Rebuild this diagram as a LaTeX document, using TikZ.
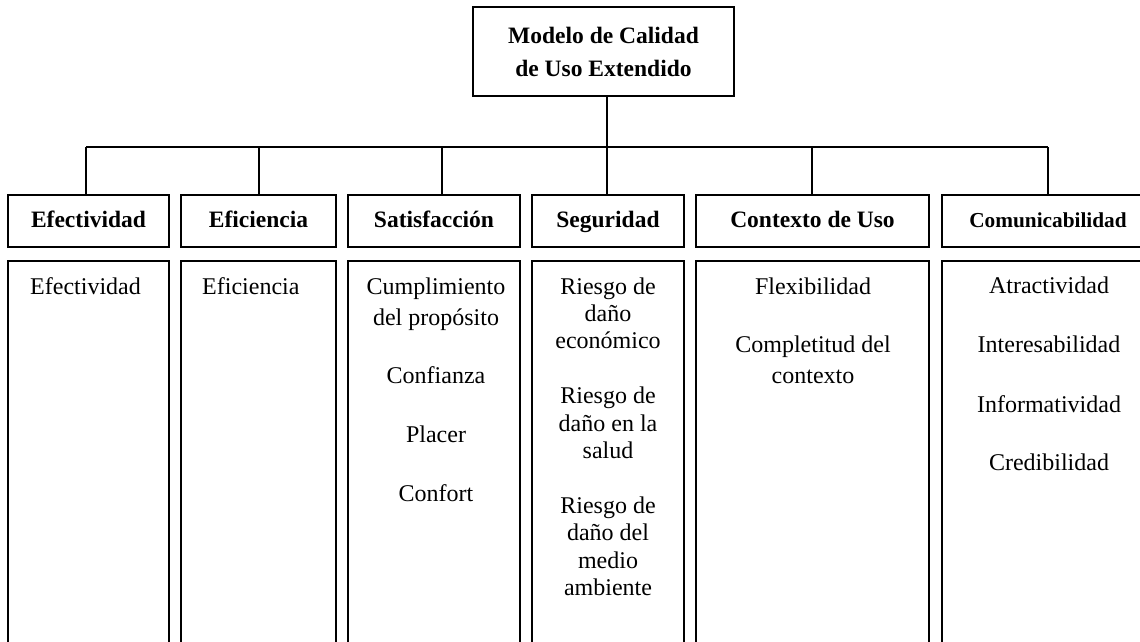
\documentclass[tikz,border=0pt]{standalone}
\usepackage{fontspec}
\setmainfont{Liberation Serif}
\begin{document}
\begin{tikzpicture}[x=1pt,y=-1pt,
  ln/.style={line width=1.5pt},
  hdrbox/.style={draw, line width=1.5pt, rectangle, inner sep=0pt, minimum height=52pt,
    font=\bfseries\fontsize{23.5}{27}\selectfont, text height=17pt, text depth=4pt},
  titlebox/.style={draw, line width=1.5pt, rectangle, inner sep=0pt, minimum width=261pt, minimum height=89pt,
    align=center, font=\bfseries\fontsize{23.5}{33}\selectfont},
  txt/.style={anchor=base, inner sep=0pt, font=\fontsize{24}{27}\selectfont},
  txtl/.style={anchor=base west, inner sep=0pt, font=\fontsize{24}{27}\selectfont}]
\useasboundingbox (0,0) rectangle (1140,641);
\clip (0,0) rectangle (1140,641);

% title
\node[titlebox] (t) at (603.5,51.5) {Modelo de Calidad\\de Uso Extendido};

% headers
\node[hdrbox, minimum width=161pt] (h1) at (88.5,221) {Efectividad};
\node[hdrbox, minimum width=155pt] (h2) at (258.5,221) {Eficiencia};
\node[hdrbox, minimum width=172pt] (h3) at (434,221) {Satisfacción};
\node[hdrbox, minimum width=152pt] (h4) at (608,221) {Seguridad};
\node[hdrbox, minimum width=233pt] (h5) at (812.5,221) {Contexto de Uso};
\node[hdrbox, minimum width=212pt, font=\bfseries\fontsize{21.3}{25}\selectfont] (h6) at (1048,221) {Comunicabilidad};

% connectors
\coordinate (d1) at (86,147);
\coordinate (d2) at (259,147);
\coordinate (d3) at (442,147);
\coordinate (d4) at (607,147);
\coordinate (d5) at (812,147);
\coordinate (d6) at (1048,147);
\draw[ln] (t.south -| d4) -- (d4);
\draw[ln] (d1) -- (d6);
\draw[ln] (d1) -- (d1 |- h1.north);
\draw[ln] (d2) -- (d2 |- h2.north);
\draw[ln] (d3) -- (d3 |- h3.north);
\draw[ln] (d4) -- (d4 |- h4.north);
\draw[ln] (d5) -- (d5 |- h5.north);
\draw[ln] (d6) -- (d6 |- h6.north);

% content boxes (open at the bottom edge)
\draw[ln] (8,261) rectangle (169,670);
\draw[ln] (181,261) rectangle (336,670);
\draw[ln] (348,261) rectangle (520,670);
\draw[ln] (532,261) rectangle (684,670);
\draw[ln] (696,261) rectangle (929,670);
\draw[ln] (942,261) rectangle (1154,670);

% content texts
\node[txtl] (a1) at (30,294) {Efectividad};
\node[txtl] (b1) at (202,294) {Eficiencia};

\node[txt] (c1) at (436,294) {Cumplimiento};
\node[txt] (c2) at (436,325) {del propósito};
\node[txt] (c3) at (436,383) {Confianza};
\node[txt] (c4) at (436,442) {Placer};
\node[txt] (c5) at (436,501) {Confort};

\node[txt] (s1) at (608,294) {Riesgo de};
\node[txt] (s2) at (608,321) {daño};
\node[txt] (s3) at (608,348) {económico};
\node[txt] (s4) at (608,403) {Riesgo de};
\node[txt] (s5) at (608,431) {daño en la};
\node[txt] (s6) at (608,458) {salud};
\node[txt] (s7) at (608,513) {Riesgo de};
\node[txt] (s8) at (608,540) {daño del};
\node[txt] (s9) at (608,568) {medio};
\node[txt] (s10) at (608,595) {ambiente};

\node[txt] (x1) at (813,294) {Flexibilidad};
\node[txt] (x2) at (813,352) {Completitud del};
\node[txt] (x3) at (813,383) {contexto};

\node[txt] (m1) at (1049,293) {Atractividad};
\node[txt] (m2) at (1049,352) {Interesabilidad};
\node[txt] (m3) at (1049,412) {Informatividad};
\node[txt] (m4) at (1049,470) {Credibilidad};
\end{tikzpicture}
\end{document}
